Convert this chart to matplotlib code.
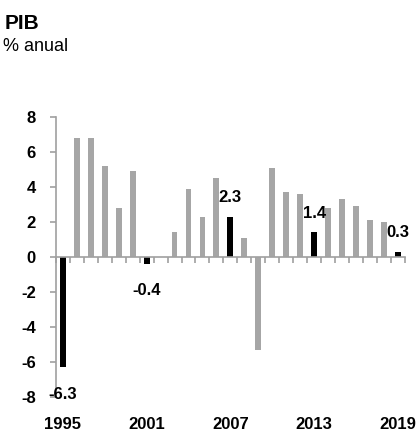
import matplotlib
matplotlib.use("Agg")
import matplotlib.pyplot as plt
import numpy as np

plt.rcParams['font.family'] = ['Liberation Sans', 'DejaVu Sans']

years = list(range(1995, 2020))
pib = [-6.3, 6.8, 6.8, 5.2, 2.8, 4.9, -0.4, 0.0, 1.4, 3.9, 2.3, 4.5, 2.3, 1.1,
       -5.3, 5.1, 3.7, 3.6, 1.4, 2.8, 3.3, 2.9, 2.1, 2.0, 0.3]
highlight = [1995, 2001, 2007, 2013, 2019]
yticks = [-8, -6, -4, -2, 0, 2, 4, 6, 8]

gray = '#a6a6a6'
axis_gray = '#a0a0a0'

fig = plt.figure(figsize=(4.17, 4.34), dpi=100)
ax = fig.add_axes([0.134, 0.0853, 0.837, 0.6451])

x = np.arange(len(years))
colors = ['#000000' if y in highlight else gray for y in years]
ax.bar(x, pib, width=0.42, color=colors, zorder=2)

ax.set_xlim(-0.5, len(years) - 0.5)
ax.set_ylim(-8, 8)

for s in ['top', 'right']:
    ax.spines[s].set_visible(False)
ax.spines['bottom'].set_position(('data', 0))
ax.spines['bottom'].set_color(axis_gray)
ax.spines['left'].set_color(axis_gray)
ax.spines['bottom'].set_linewidth(1.2)
ax.spines['left'].set_linewidth(1.2)
ax.spines['bottom'].set_zorder(3)

# ticks between the bars, labels written below the plot
ax.set_xticks(np.arange(-0.5, len(years), 1.0))
ax.set_xticklabels([])
ax.tick_params(axis='x', direction='out', length=4.5, width=1.2, color=axis_gray)

ax.set_yticks(yticks)
ax.set_yticklabels([str(v) for v in yticks])
ax.tick_params(axis='y', direction='out', length=4.5, width=1.2, color=axis_gray,
               pad=10, labelsize=12)
for lab in ax.get_yticklabels():
    lab.set_fontweight('bold')

for i, y in enumerate(years):
    if y in highlight:
        ax.text(i, -9.55, str(y), ha='center', va='center', fontsize=12,
                fontweight='bold', clip_on=False)
        v = pib[i]
        if v >= 0:
            ax.annotate(f'{v:.1f}', (i, v), xytext=(0, 10.5), textcoords='offset points',
                        ha='center', va='baseline', fontsize=12, fontweight='bold')
        else:
            ax.annotate(f'{v:.1f}', (i, v), xytext=(0, -14), textcoords='offset points',
                        ha='center', va='top', fontsize=12, fontweight='bold')

fig.text(0.012, 0.968, 'PIB', fontsize=15, fontweight='bold', va='top', ha='left')
fig.text(0.008, 0.912, '% anual', fontsize=13, va='top', ha='left')

fig.savefig('out.png', dpi=100)
